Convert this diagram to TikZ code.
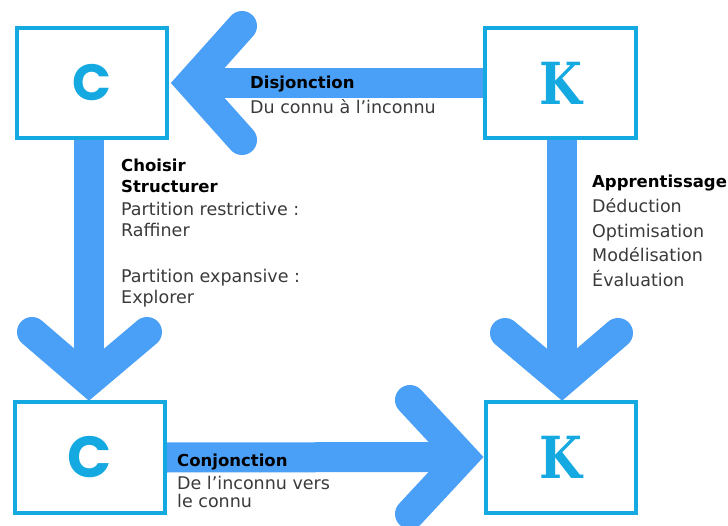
\documentclass[tikz,border=0pt]{standalone}
\usepackage{fontspec}
\setmainfont{DejaVu Sans}
\newfontfamily\cfont{Poppins}
\newfontfamily\kfont{DejaVu Serif}
\definecolor{boxc}{HTML}{15A9E1}
\definecolor{arrc}{HTML}{4A9FF6}
\definecolor{txtc}{HTML}{3A3A3A}
\begin{document}
\begin{tikzpicture}[x=1pt,y=-1pt,
  box/.style={draw=boxc, line width=4pt, fill=white, minimum width=150pt, minimum height=110pt, inner sep=0pt, text=boxc},
  shaft/.style={draw=arrc, line width=30pt},
  head/.style={draw=arrc, line width=30pt, line cap=round, line join=miter},
  lbl/.style={anchor=base west, inner sep=0pt, text=txtc, font=\fontsize{17.5}{20}\selectfont},
  blbl/.style={anchor=base west, inner sep=0pt, text=black, font=\fontsize{16.5}{19}\selectfont\bfseries}]
\useasboundingbox (0,0) rectangle (728,526);

% arrow geometry
\coordinate (v1) at (191,83);
\coordinate (a1) at (242,26);
\coordinate (b1) at (242,140);
\coordinate (v2) at (463,457);
\coordinate (a2) at (410,400);
\coordinate (b2) at (410,514);
\coordinate (v3) at (89,381);
\coordinate (a3) at (32,332);
\coordinate (b3) at (147,332);
\coordinate (v4) at (562,381);
\coordinate (a4) at (505,333);
\coordinate (b4) at (618,333);

% box positions (for shafts)
\coordinate (pC1) at (92,83);
\coordinate (pK1) at (560.5,83);
\coordinate (pC2) at (90,457.5);
\coordinate (pK2) at (561,457.5);

% shafts
\draw[shaft] (pK1 -| 483,0) -- (v1);
\draw[shaft] (pC2 -| 167,0) -- (v2);
\draw[shaft] (v3 |- 0,140) -- (v3);
\draw[shaft] (v4 |- 0,140) -- (v4);
% heads
\draw[head] (a1) -- (v1) -- (b1);
\draw[head] (a2) -- (v2) -- (b2);
\draw[head] (a3) -- (v3) -- (b3);
\draw[head] (a4) -- (v4) -- (b4);

% boxes
\node[box, font=\fontsize{51}{51}\selectfont\cfont\bfseries] (C1) at (pC1) {C};
\node[box, minimum width=151pt, font=\fontsize{58}{58}\selectfont\kfont\bfseries] (K1) at (pK1) {\scalebox{0.85}[1]{K}};
\node[box, minimum height=111pt, font=\fontsize{58}{58}\selectfont\cfont\bfseries] (C2) at (pC2) {C};
\node[box, minimum height=111pt, font=\fontsize{58}{58}\selectfont\kfont\bfseries] (K2) at (pK2) {\scalebox{0.85}[1]{K}};

% labels
\node[blbl] (t1) at (250,89) {Disjonction};
\node[lbl] (t2) at (250,114) {Du connu à l’inconnu};

\node[blbl] (l1) at (121,172) {Choisir};
\node[blbl] (l2) at (121,193) {Structurer};
\node[lbl] (l3) at (121,216) {Partition restrictive :};
\node[lbl] (l4) at (121,237) {Raffiner};
\node[lbl] (l5) at (121,283) {Partition expansive :};
\node[lbl] (l6) at (121,304) {Explorer};

\node[blbl] (r1) at (592,188) {Apprentissage};
\node[lbl] (r2) at (592,213) {Déduction};
\node[lbl] (r3) at (592,238) {Optimisation};
\node[lbl] (r4) at (592,262) {Modélisation};
\node[lbl] (r5) at (592,287) {Évaluation};

\node[blbl] (b1t) at (177,466) {Conjonction};
\node[lbl] (b2t) at (177,489) {De l’inconnu vers};
\node[lbl] (b3t) at (177,507) {le connu};
\end{tikzpicture}
\end{document}
